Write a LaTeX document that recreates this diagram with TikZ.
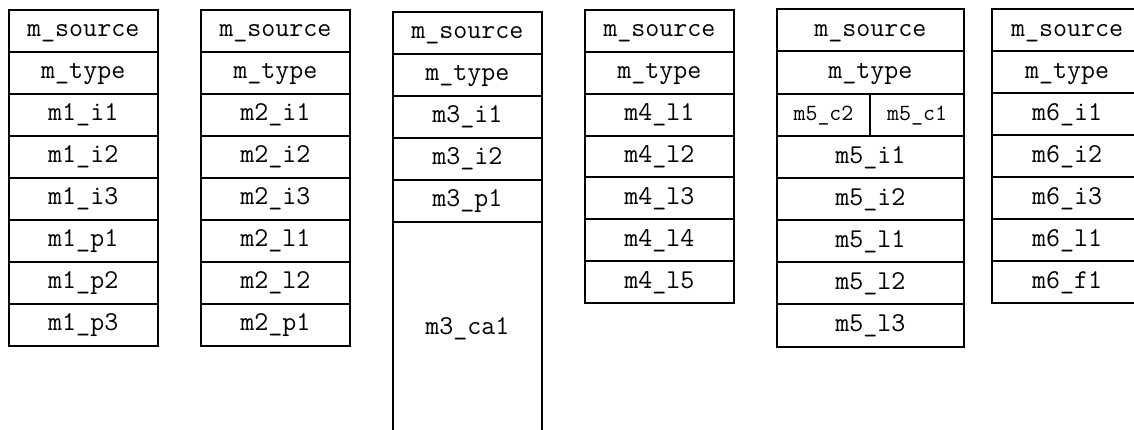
\documentclass[tikz,border=0pt]{standalone}
\usepackage{fontspec}
\begin{document}
\begin{tikzpicture}[x=0.5pt,y=-0.5pt,
  cell/.style={draw=black, line width=1pt, rectangle, inner sep=0pt, outer sep=0pt,
    anchor=north west, minimum width=74.75pt, minimum height=21pt,
    font=\fontsize{13.6}{16}\ttfamily, text height=8pt, text depth=1.8pt},
  halfcell/.style={cell, minimum width=46.8pt, font=\fontsize{11.6}{14}\ttfamily},
  widecell/.style={cell, minimum width=93.65pt, minimum height=21.08pt},
  tallcell/.style={cell, minimum height=106.25pt}]
\useasboundingbox (0,0) rectangle (1134,429);
\clip (0,0) rectangle (1134,429);
% column 1
\foreach \t [count=\i] in {m\_source,m\_type,m1\_i1,m1\_i2,m1\_i3,m1\_p1,m1\_p2,m1\_p3}
  \node[cell] (a\i) at (8.5,{9.5+42*(\i-1)}) {\t};
% column 2
\foreach \t [count=\i] in {m\_source,m\_type,m2\_i1,m2\_i2,m2\_i3,m2\_l1,m2\_l2,m2\_p1}
  \node[cell] (b\i) at (200.7,{9.5+42*(\i-1)}) {\t};
% column 3
\foreach \t [count=\i] in {m\_source,m\_type,m3\_i1,m3\_i2,m3\_p1}
  \node[cell] (c\i) at (392.7,{11.7+42*(\i-1)}) {\t};
\node[tallcell] (c6) at (392.7,221.7) {m3\_ca1};
% column 4
\foreach \t [count=\i] in {m\_source,m\_type,m4\_l1,m4\_l2,m4\_l3,m4\_l4,m4\_l5}
  \node[cell, minimum height=20.95pt] (d\i) at (584.7,{9.8+41.9*(\i-1)}) {\t};
% column 5
\node[widecell] (e1) at (776.7,9.3) {m\_source};
\node[widecell] (e2) at (776.7,51.46) {m\_type};
\node[halfcell, minimum height=21.08pt] (e3a) at (776.7,93.62) {m5\_c2};
\node[halfcell, minimum height=21.08pt] (e3b) at (870.3,93.62) {m5\_c1};
\foreach \t [count=\i from 4] in {m5\_i1,m5\_i2,m5\_l1,m5\_l2,m5\_l3}
  \node[widecell] (e\i) at (776.7,{9.3+42.16*(\i-1)}) {\t};
% column 6
\foreach \t [count=\i] in {m\_source,m\_type,m6\_i1,m6\_i2,m6\_i3,m6\_l1,m6\_f1}
  \node[cell] (f\i) at (992.3,{9.3+42*(\i-1)}) {\t};
\end{tikzpicture}
\end{document}
